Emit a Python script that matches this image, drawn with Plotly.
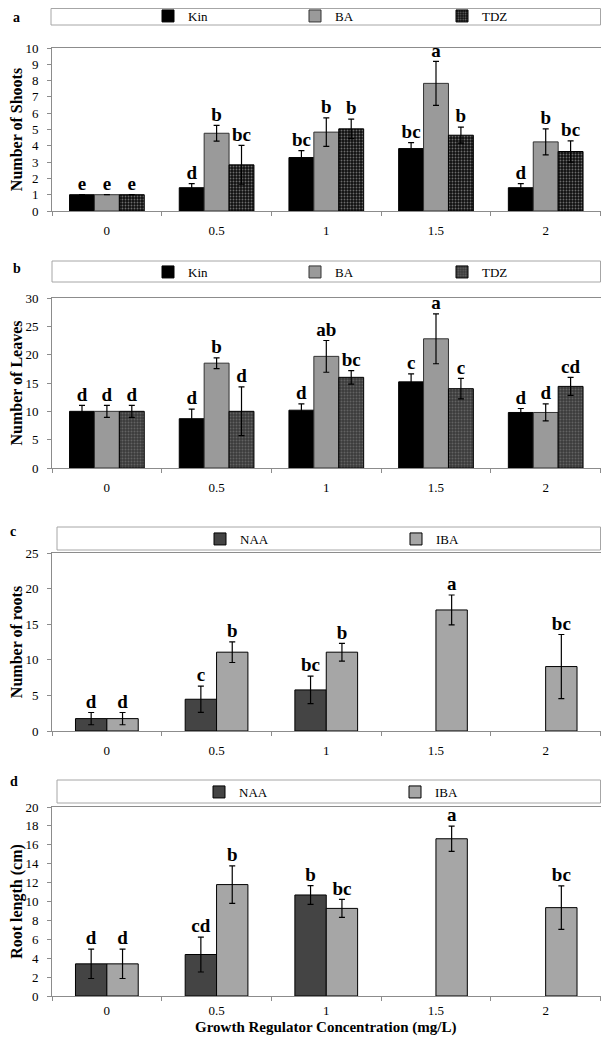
import plotly.graph_objects as go

# concentrations (mg/L)
conc = ["0", "0.5", "1", "1.5", "2"]
xpos = [0, 1, 2, 3, 4]

# a - number of shoots
shoots_kin = [1.0, 1.43, 3.28, 3.83, 1.43]
shoots_kin_err = [0, 0.25, 0.43, 0.37, 0.25]
shoots_kin_lbl = ["e", "d", "bc", "bc", "d"]
shoots_ba = [1.0, 4.77, 4.84, 7.83, 4.24]
shoots_ba_err = [0, 0.48, 0.87, 1.35, 0.8]
shoots_ba_lbl = ["e", "b", "b", "a", "b"]
shoots_tdz = [1.0, 2.83, 5.04, 4.65, 3.65]
shoots_tdz_err = [0, 1.19, 0.6, 0.49, 0.65]
shoots_tdz_lbl = ["e", "bc", "b", "b", "bc"]

# b - number of leaves
leaves_kin = [10.0, 8.7, 10.2, 15.2, 9.8]
leaves_kin_err = [1.05, 1.7, 1.1, 1.4, 0.7]
leaves_kin_lbl = ["d", "d", "d", "c", "d"]
leaves_ba = [10.0, 18.5, 19.7, 22.8, 9.8]
leaves_ba_err = [1.05, 0.95, 2.8, 4.4, 1.5]
leaves_ba_lbl = ["d", "b", "ab", "a", "d"]
leaves_tdz = [10.0, 10.0, 16.0, 14.0, 14.4]
leaves_tdz_err = [1.05, 4.3, 1.2, 1.8, 1.6]
leaves_tdz_lbl = ["d", "d", "bc", "c", "cd"]

# c - number of roots
roots_naa = [1.74, 4.46, 5.77, None, None]
roots_naa_err = [0.86, 1.85, 1.93, None, None]
roots_naa_lbl = ["d", "c", "bc", None, None]
roots_iba = [1.74, 11.07, 11.07, 17.0, 9.05]
roots_iba_err = [0.86, 1.45, 1.25, 2.1, 4.5]
roots_iba_lbl = ["d", "b", "b", "a", "bc"]

# d - root length (cm)
rlen_naa = [3.4, 4.39, 10.69, None, None]
rlen_naa_err = [1.55, 1.85, 1.0, None, None]
rlen_naa_lbl = ["d", "cd", "b", None, None]
rlen_iba = [3.4, 11.79, 9.27, 16.64, 9.35]
rlen_iba_err = [1.55, 1.98, 0.96, 1.34, 2.3]
rlen_iba_lbl = ["d", "b", "bc", "a", "bc"]

# page body has an 8px margin, so the figure is 16px smaller than the window
PAGE = 8
W, H = 609 - 2 * PAGE, 1046 - 2 * PAGE
RIGHT = 600.5
SERIF = "Liberation Serif"
AXIS_GRAY = "#8c8c8c"
BOX_GRAY = "#a6a6a6"

def py(px):
    return min(1.0, max(0.0, 1 - (px - PAGE) / H))

def px_x(px):
    return min(1.0, max(0.0, (px - PAGE) / W))

fig = go.Figure()

def add_group(series, axis_n, legend_name, bw, offsets):
    xa = "x" if axis_n == 1 else f"x{axis_n}"
    ya = "y" if axis_n == 1 else f"y{axis_n}"
    for (name, vals, errs, lbls, marker), off in zip(series, offsets):
        fig.add_trace(go.Bar(
            name=name, x=xpos, y=vals, width=bw, offset=off,
            marker=marker,
            error_y=dict(type="data", array=errs, visible=True,
                         color="black", thickness=1.2, width=3),
            xaxis=xa, yaxis=ya, legend=legend_name,
        ))
        tx = [x + off + bw / 2 for x in xpos]
        ty = [None if v is None else v + (e or 0) for v, e in zip(vals, errs)]
        fig.add_trace(go.Scatter(
            x=tx, y=ty, text=lbls, mode="text", textposition="top center",
            textfont=dict(family=SERIF, size=19, color="black", weight="bold"),
            showlegend=False, hoverinfo="skip", xaxis=xa, yaxis=ya,
        ))

kin_m = dict(color="black", line=dict(color="black", width=1))
ba_m = dict(color="#9a9a9a", line=dict(color="#333333", width=1))
tdz_m = dict(color="black", line=dict(color="black", width=1),
             pattern=dict(shape=".", fgcolor="#c8c8c8", bgcolor="#111111",
                          size=3, solidity=0.3))
tdz_m2 = dict(color="#444444", line=dict(color="black", width=1),
              pattern=dict(shape=".", fgcolor="#8a8a8a", bgcolor="#3a3a3a",
                           size=3, solidity=0.35))
naa_m = dict(color="#444444", line=dict(color="black", width=1))
iba_m = dict(color="#a6a6a6", line=dict(color="black", width=1))

bw3 = 0.227
off3 = [-0.34, -0.113, 0.114]
bw2 = 0.286
off2 = [-0.286, 0.0]

add_group([("Kin", shoots_kin, shoots_kin_err, shoots_kin_lbl, kin_m),
           ("BA", shoots_ba, shoots_ba_err, shoots_ba_lbl, ba_m),
           ("TDZ", shoots_tdz, shoots_tdz_err, shoots_tdz_lbl, tdz_m)],
          1, "legend", bw3, off3)
add_group([("Kin", leaves_kin, leaves_kin_err, leaves_kin_lbl, kin_m),
           ("BA", leaves_ba, leaves_ba_err, leaves_ba_lbl, ba_m),
           ("TDZ", leaves_tdz, leaves_tdz_err, leaves_tdz_lbl, tdz_m2)],
          2, "legend2", bw3, off3)
add_group([("NAA", roots_naa, roots_naa_err, roots_naa_lbl, naa_m),
           ("IBA", roots_iba, roots_iba_err, roots_iba_lbl, iba_m)],
          3, "legend3", bw2, off2)
add_group([("NAA", rlen_naa, rlen_naa_err, rlen_naa_lbl, naa_m),
           ("IBA", rlen_iba, rlen_iba_err, rlen_iba_lbl, iba_m)],
          4, "legend4", bw2, off2)

tickfont = dict(family=SERIF, size=13, color="black")
titlefont = dict(family=SERIF, size=16, color="black", weight="bold")

def xaxis(anchor_y, standoff=7):
    return dict(domain=[px_x(52), px_x(RIGHT)], range=[-0.5, 4.5], anchor=anchor_y,
                tickmode="array", tickvals=xpos, ticktext=conc, ticks="",
                ticklabelstandoff=standoff,
                showline=True, linecolor=AXIS_GRAY, linewidth=1, mirror=True,
                showgrid=False, zeroline=False, tickfont=tickfont, fixedrange=True,
                automargin=False,
                minor=dict(tickmode="array", tickvals=[-0.5, 0.5, 1.5, 2.5, 3.5, 4.5],
                           ticks="outside", ticklen=4, tickcolor=AXIS_GRAY, showgrid=False))

def yaxis(top, bottom, rng, dtick, title, anchor_x):
    return dict(domain=[py(bottom), py(top)], range=rng, dtick=dtick, anchor=anchor_x,
                ticks="outside", ticklen=4, tickcolor=AXIS_GRAY, ticklabelstandoff=6,
                showline=True, linecolor=AXIS_GRAY, linewidth=1, mirror=True,
                showgrid=False, zeroline=False, tickfont=tickfont, automargin=False,
                title=dict(text=title, font=titlefont, standoff=0))

legend_font = dict(family=SERIF, size=13, color="black")

def legend(xpx, ypx, ew):
    return dict(orientation="h", x=px_x(xpx), y=py(ypx), xanchor="left",
                yanchor="middle", entrywidth=ew, entrywidthmode="pixels",
                bgcolor="rgba(0,0,0,0)", borderwidth=0, font=legend_font,
                itemclick=False, itemdoubleclick=False)

fig.update_layout(
    width=W, height=H, margin=dict(l=0, r=0, t=0, b=0, autoexpand=False),
    paper_bgcolor="white", plot_bgcolor="white",
    barmode="overlay", showlegend=True,
    xaxis=xaxis("y"), yaxis=yaxis(48, 211, [0, 10], 1, "Number of Shoots", "x"),
    xaxis2=xaxis("y2"), yaxis2=yaxis(298, 468, [0, 30], 5, "Number of Leaves", "x2"),
    xaxis3=xaxis("y3"), yaxis3=yaxis(553, 731, [0, 25], 5, "Number of roots", "x3"),
    xaxis4=xaxis("y4", 2), yaxis4=yaxis(807, 996, [0, 20], 2, "Root length (cm)", "x4"),
    legend=legend(148, 16, 102),
    legend2=legend(148, 272, 102),
    legend3=legend(200, 539, 151),
    legend4=legend(199, 792, 151),
)

# x axis title of the bottom panel, kept inside the figure's lower edge
fig.add_annotation(text="Growth Regulator Concentration (mg/L)", x=px_x(326), y=0,
                   xref="paper", yref="paper", showarrow=False,
                   xanchor="center", yanchor="bottom", yshift=0,
                   font=dict(family=SERIF, size=15, color="black", weight="bold"))

# legend frames
for x0, y0, x1, y1 in [(51, 8.5, RIGHT, 25), (52, 261, RIGHT, 282),
                       (57, 527, RIGHT, 550), (57, 780, RIGHT, 803)]:
    fig.add_shape(type="rect", xref="paper", yref="paper",
                  x0=px_x(x0), x1=px_x(x1), y0=py(y1), y1=py(y0),
                  line=dict(color=BOX_GRAY, width=1))

# panel letters: (text, x px, y px, xanchor, yanchor)
for letter, xp, yp, xa, ya in [("a", 11, 8, "left", "top"), ("b", 11, 268, "left", "middle"),
                               ("c", 8, 531, "left", "middle"), ("d", 8, 781, "left", "middle")]:
    fig.add_annotation(text=letter, x=px_x(xp), y=py(yp), xref="paper", yref="paper",
                       showarrow=False, xanchor=xa, yanchor=ya,
                       font=dict(family=SERIF, size=14, color="black", weight="bold"))

fig.write_html("out.html")
